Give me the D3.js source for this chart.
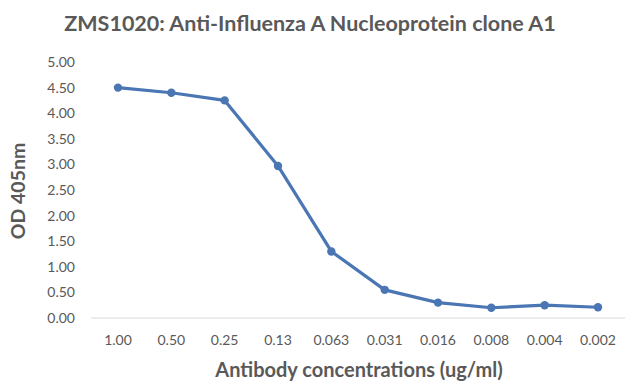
<!DOCTYPE html>
<html>
<head>
<meta charset="utf-8">
<script src="https://cdn.jsdelivr.net/npm/d3@7"></script>
<style>
  body { margin: 0; background: #fff; }
  svg text { font-family: Lato, "Open Sans", sans-serif; fill: #595959; }
</style>
</head>
<body>
<script>
var concentrations = ["1.00", "0.50", "0.25", "0.13", "0.063", "0.031", "0.016", "0.008", "0.004", "0.002"];
var odValues = [4.50, 4.40, 4.25, 2.97, 1.30, 0.55, 0.30, 0.20, 0.25, 0.21];
var yTicks = [0, 0.5, 1, 1.5, 2, 2.5, 3, 3.5, 4, 4.5, 5];

var width = 640,
    height = 391;

var svg = d3.select("body").append("svg")
    .attr("width", width)
    .attr("height", height);

var x = d3.scalePoint()
    .domain(concentrations)
    .range([118, 598]);

var y = d3.scaleLinear()
    .domain([0, 5])
    .range([318, 62]);

// axis baseline
svg.append("line")
    .attr("x1", 91).attr("x2", 625)
    .attr("y1", y(0)).attr("y2", y(0))
    .attr("stroke", "#d9d9d9")
    .attr("stroke-width", 1);

// y tick labels
svg.selectAll("text.ytick")
    .data(yTicks)
  .enter().append("text")
    .attr("class", "ytick")
    .attr("x", 75)
    .attr("y", function(d) { return y(d); })
    .attr("dy", ".35em")
    .attr("text-anchor", "end")
    .style("font-size", "14px")
    .text(function(d) { return d3.format(".2f")(d); });

// x tick labels
svg.selectAll("text.xtick")
    .data(concentrations)
  .enter().append("text")
    .attr("class", "xtick")
    .attr("x", function(d) { return x(d); })
    .attr("y", 345)
    .attr("text-anchor", "middle")
    .style("font-size", "14px")
    .text(function(d) { return d; });

var line = d3.line()
    .x(function(d, i) { return x(concentrations[i]); })
    .y(function(d) { return y(d); });

svg.append("path")
    .datum(odValues)
    .attr("fill", "none")
    .attr("stroke", "#4a76b4")
    .attr("stroke-width", 3.2)
    .attr("stroke-linejoin", "round")
    .attr("d", line);

svg.selectAll("circle.pt")
    .data(odValues)
  .enter().append("circle")
    .attr("class", "pt")
    .attr("cx", function(d, i) { return x(concentrations[i]); })
    .attr("cy", function(d) { return y(d); })
    .attr("r", 4.2)
    .attr("fill", "#4a76b4");

// title
svg.append("text")
    .attr("x", 310)
    .attr("y", 31)
    .attr("text-anchor", "middle")
    .style("font-size", "21.5px")
    .style("font-weight", "bold")
    .text("ZMS1020: Anti-Influenza A Nucleoprotein clone A1");

// axis titles
svg.append("text")
    .attr("x", 359)
    .attr("y", 377)
    .attr("text-anchor", "middle")
    .style("font-size", "20px")
    .style("font-weight", "bold")
    .text("Antibody concentrations (ug/ml)");

svg.append("text")
    .attr("transform", "translate(25,191) rotate(-90)")
    .attr("text-anchor", "middle")
    .style("font-size", "19.5px")
    .style("font-weight", "bold")
    .text("OD 405nm");
</script>
</body>
</html>
